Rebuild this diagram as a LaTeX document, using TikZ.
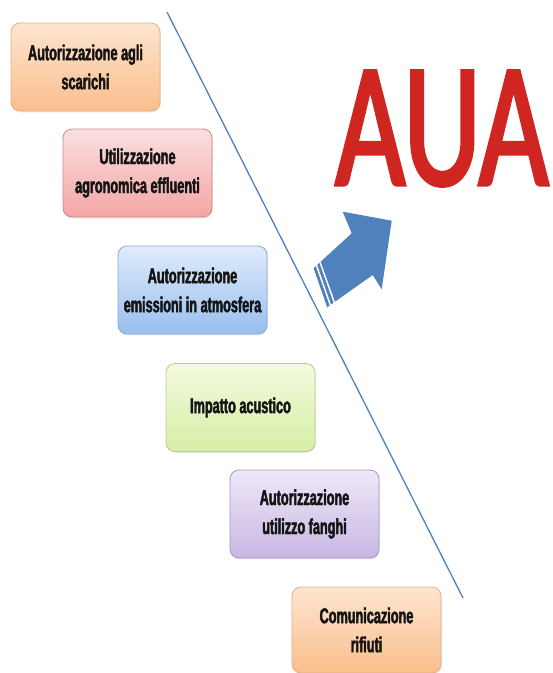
\documentclass[tikz,border=0pt]{standalone}
\usepackage{fontspec}
\usetikzlibrary{shadows}
\newfontfamily\boxfont[FakeStretch=0.59,FakeBold=2]{Liberation Sans Bold}
\newfontfamily\auafont[FakeStretch=0.68,FakeBold=1.8]{Carlito}
\definecolor{orTop}{RGB}{253,229,208}
\definecolor{orBot}{RGB}{250,190,140}
\definecolor{orLine}{RGB}{228,178,135}
\definecolor{rdTop}{RGB}{251,224,224}
\definecolor{rdBot}{RGB}{244,165,165}
\definecolor{rdLine}{RGB}{205,140,140}
\definecolor{blTop}{RGB}{224,236,251}
\definecolor{blBot}{RGB}{152,190,238}
\definecolor{blLine}{RGB}{140,170,210}
\definecolor{gnTop}{RGB}{243,251,222}
\definecolor{gnBot}{RGB}{214,238,165}
\definecolor{gnLine}{RGB}{185,205,145}
\definecolor{ppTop}{RGB}{239,232,248}
\definecolor{ppBot}{RGB}{200,182,226}
\definecolor{ppLine}{RGB}{170,150,200}
\definecolor{accBlue}{RGB}{79,129,189}
\definecolor{txtGray}{RGB}{20,20,20}
\definecolor{auaRed}{RGB}{208,38,34}
\begin{document}
\begin{tikzpicture}[x=1pt,y=-1pt,
  box/.style={rounded corners=9pt, line width=0.8pt, minimum width=149pt,
    minimum height=88pt, align=center, inner sep=0pt,
    font=\boxfont\fontsize{21.5}{29}\selectfont,
    text=txtGray,
    drop shadow={opacity=0.18, shadow xshift=0.8pt, shadow yshift=-1.4pt}},
  orbox/.style={box, draw=orLine, top color=orTop, bottom color=orBot},
  rdbox/.style={box, draw=rdLine, top color=rdTop, bottom color=rdBot},
  blbox/.style={box, draw=blLine, top color=blTop, bottom color=blBot},
  gnbox/.style={box, draw=gnLine, top color=gnTop, bottom color=gnBot},
  ppbox/.style={box, draw=ppLine, top color=ppTop, bottom color=ppBot},
  divider/.style={draw=accBlue, line width=1.3pt},
  auatext/.style={anchor=base west, inner sep=0pt, text=auaRed,
    font=\auafont\fontsize{178}{178}\selectfont}
]
\fill[white] (0,0) rectangle (553,673);
\useasboundingbox (0,0) rectangle (553,673);
\clip (0,0) rectangle (553,673);

% diagonal divider
\coordinate (ltop) at (167,12);
\coordinate (lbot) at (463,598);
\draw[divider] (ltop) -- (lbot);

% boxes
\node[orbox] (b1) at (85.5,67) {Autorizzazione agli\\scarichi};
\node[rdbox] (b2) at (137.5,173) {Utilizzazione\\agronomica effluenti};
\node[blbox] (b3) at (192.5,290) {Autorizzazione\\emissioni in atmosfera};
\node[gnbox] (b4) at (240.5,407.5) {Impatto acustico};
\node[ppbox] (b5) at (304.5,514) {Autorizzazione\\utilizzo fanghi};
\node[orbox, minimum height=86pt] (b6) at (366.5,630) {Comunicazione\\rifiuti};

% AUA title
\node[auatext] (aua) at (335,185) {AUA};

% striped block arrow
\fill[accBlue] (320.7,261.7) -- (351.7,233.3) -- (342.7,211.7) -- (391.7,220.7)
  -- (381.7,289.3) -- (372.7,275) -- (335,301.7) -- cycle;
\fill[accBlue] (319.4,262.9) -- (317.2,264.9) -- (331.1,304.5) -- (333.5,302.7) -- cycle;
\fill[accBlue] (315.8,266.2) -- (313.6,268.2) -- (327.2,307.3) -- (329.6,305.5) -- cycle;
\end{tikzpicture}
\end{document}
